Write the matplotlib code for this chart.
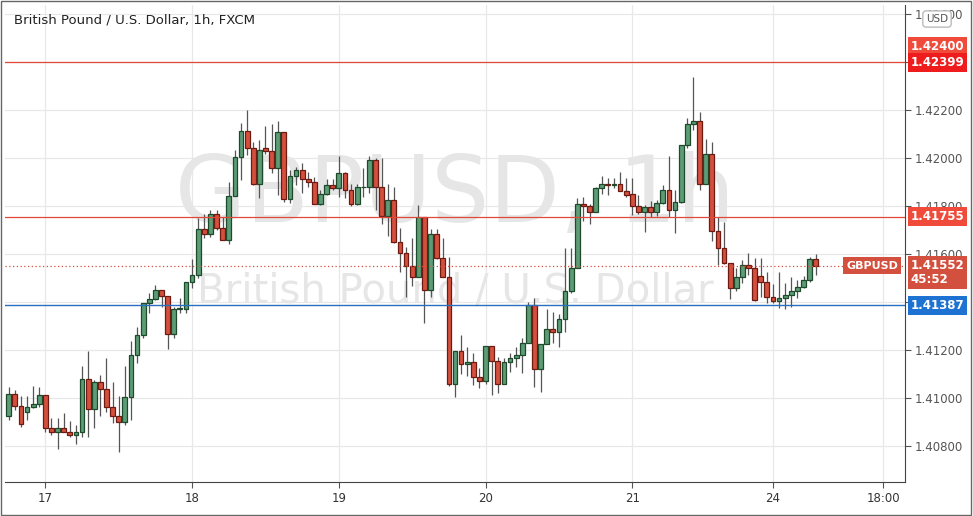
import matplotlib
matplotlib.use("Agg")
import matplotlib.pyplot as plt
from matplotlib.patches import Rectangle
import numpy as np

opens = [1.40925,1.41015,1.40967,1.40943,1.40961,1.40974,1.41011,1.40874,1.40857,1.40874,
1.40860,1.40844,1.40857,1.41078,1.40953,1.41065,1.41036,1.40961,1.40925,1.40901,
1.41003,1.41178,1.41261,1.41394,1.41411,1.41449,1.41424,1.41265,1.41369,1.41371,
1.41482,1.41511,1.41703,1.41682,1.41765,1.41710,1.41658,1.41843,1.42006,1.42114,
1.42040,1.41890,1.42040,1.42029,1.41957,1.42107,1.41828,1.41925,1.41950,1.41911,
1.41899,1.41807,1.41849,1.41888,1.41874,1.41936,1.41869,1.41807,1.41878,1.41878,
1.41992,1.41881,1.41760,1.41825,1.41651,1.41603,1.41550,1.41506,1.41756,1.41450,
1.41683,1.41582,1.41503,1.41057,1.41196,1.41140,1.41151,1.41086,1.41072,1.41217,
1.41156,1.41057,1.41149,1.41165,1.41179,1.41228,1.41387,1.41119,1.41224,1.41286,
1.41276,1.41328,1.41446,1.41540,1.41808,1.41800,1.41774,1.41874,1.41894,1.41889,
1.41894,1.41864,1.41849,1.41801,1.41776,1.41797,1.41774,1.41811,1.41867,1.41783,
1.41815,1.42054,1.42140,1.42153,1.41894,1.42019,1.41697,1.41624,1.41561,1.41457,
1.41506,1.41556,1.41540,1.41510,1.41482,1.41419,1.41404,1.41415,1.41429,1.41447,
1.41461,1.41492,1.41578]
highs = [1.41047,1.41033,1.41008,1.41008,1.41050,1.41047,1.41011,1.40915,1.40915,1.40936,
1.40906,1.40887,1.41133,1.41197,1.41075,1.41094,1.41165,1.41068,1.41008,1.41133,
1.41239,1.41294,1.41397,1.41436,1.41471,1.41449,1.41424,1.41378,1.41415,1.41485,
1.41578,1.41749,1.41765,1.41783,1.41783,1.41756,1.41901,1.42033,1.42147,1.42200,
1.42068,1.42075,1.42133,1.42142,1.42154,1.42107,1.41950,1.41964,1.41981,1.41943,
1.41922,1.41867,1.41913,1.41913,1.42008,1.41943,1.41894,1.41894,1.41957,1.42008,
1.41999,1.41999,1.41892,1.41878,1.41707,1.41631,1.41665,1.41804,1.41756,1.41703,
1.41706,1.41669,1.41586,1.41196,1.41263,1.41211,1.41189,1.41124,1.41217,1.41217,
1.41169,1.41165,1.41186,1.41211,1.41249,1.41401,1.41415,1.41224,1.41369,1.41360,
1.41350,1.41624,1.41624,1.41832,1.41836,1.41808,1.41881,1.41925,1.41919,1.41915,
1.41943,1.41915,1.41915,1.41846,1.41804,1.41822,1.41825,1.41888,1.42008,1.41867,
1.42054,1.42165,1.42339,1.42193,1.42079,1.42068,1.41756,1.41735,1.41561,1.41540,
1.41575,1.41603,1.41582,1.41582,1.41526,1.41475,1.41526,1.41478,1.41506,1.41492,
1.41508,1.41589,1.41600]
lows = [1.40908,1.40950,1.40881,1.40908,1.40957,1.40964,1.40860,1.40846,1.40786,1.40860,
1.40836,1.40808,1.40839,1.40836,1.40874,1.40925,1.40943,1.40894,1.40776,1.40887,
1.40908,1.41144,1.41251,1.41353,1.41408,1.41378,1.41203,1.41251,1.41353,1.41353,
1.41457,1.41499,1.41665,1.41672,1.41700,1.41658,1.41644,1.41840,1.41908,1.42013,
1.41887,1.41832,1.42019,1.41936,1.41846,1.41818,1.41811,1.41888,1.41853,1.41878,
1.41807,1.41804,1.41846,1.41867,1.41839,1.41832,1.41800,1.41804,1.41839,1.41856,
1.41783,1.41725,1.41675,1.41647,1.41526,1.41419,1.41467,1.41506,1.41311,1.41419,
1.41578,1.41503,1.41050,1.41006,1.41099,1.41092,1.41054,1.41040,1.41058,1.41012,
1.41022,1.41057,1.41107,1.41131,1.41103,1.41228,1.41047,1.41026,1.41224,1.41228,
1.41211,1.41276,1.41436,1.41540,1.41739,1.41725,1.41774,1.41850,1.41846,1.41874,
1.41864,1.41839,1.41762,1.41767,1.41693,1.41753,1.41760,1.41808,1.41753,1.41686,
1.41811,1.42044,1.42119,1.41869,1.41894,1.41656,1.41554,1.41558,1.41411,1.41447,
1.41481,1.41512,1.41406,1.41419,1.41394,1.41394,1.41374,1.41369,1.41378,1.41415,
1.41457,1.41485,1.41512]
closes = [1.41015,1.40967,1.40890,1.40961,1.40975,1.41011,1.40874,1.40857,1.40874,1.40860,
1.40844,1.40857,1.41078,1.40953,1.41065,1.41036,1.40961,1.40925,1.40901,1.41003,
1.41178,1.41261,1.41397,1.41411,1.41449,1.41424,1.41265,1.41371,1.41374,1.41482,
1.41511,1.41703,1.41682,1.41765,1.41710,1.41658,1.41843,1.42006,1.42114,1.42040,
1.41890,1.42033,1.42029,1.41957,1.42107,1.41828,1.41925,1.41950,1.41911,1.41899,
1.41807,1.41849,1.41888,1.41874,1.41936,1.41869,1.41807,1.41878,1.41881,1.41992,
1.41881,1.41760,1.41825,1.41651,1.41603,1.41550,1.41506,1.41756,1.41450,1.41683,
1.41582,1.41503,1.41057,1.41196,1.41140,1.41151,1.41086,1.41072,1.41217,1.41156,
1.41057,1.41149,1.41165,1.41179,1.41228,1.41387,1.41119,1.41224,1.41286,1.41276,
1.41328,1.41446,1.41540,1.41808,1.41800,1.41774,1.41874,1.41894,1.41889,1.41894,
1.41864,1.41846,1.41801,1.41776,1.41797,1.41774,1.41811,1.41867,1.41783,1.41815,
1.42054,1.42140,1.42153,1.41894,1.42019,1.41697,1.41624,1.41561,1.41457,1.41506,
1.41556,1.41540,1.41408,1.41482,1.41419,1.41404,1.41415,1.41429,1.41447,1.41461,
1.41492,1.41578,1.41552]

xtick_pos = [6, 30, 54, 78, 102, 125, 143]
xtick_labels = ["17", "18", "19", "20", "21", "24", "18:00"]
yticks = [1.408, 1.410, 1.412, 1.414, 1.416, 1.418, 1.420, 1.422, 1.424, 1.426]
res_lines = [1.42400, 1.41755]
sup_line = 1.41387
last_price = 1.41552

UP, UPE = "#5e9c76", "#1e4a2c"
DN, DNE = "#d4503e", "#6e1a10"

fig = plt.figure(figsize=(9.73, 5.16), dpi=100)
ax = fig.add_axes([5/973, 1-482/516, 900/973, 477/516])
ax.set_xlim(-0.6, 146.6)
ax.set_ylim(1.4065, 1.42638)

for t in yticks:
    ax.axhline(t, color="#e8e8e8", lw=0.9, zorder=0)
for t in xtick_pos:
    ax.axvline(t, color="#e8e8e8", lw=0.9, zorder=0)

ax.text(0.5, 0.6, "GBPUSD, 1h", transform=ax.transAxes, ha="center", va="center",
        fontsize=66, color="#e6e6e6", zorder=0)
ax.text(0.5, 0.4, "British Pound / U.S. Dollar", transform=ax.transAxes, ha="center", va="center",
        fontsize=29, color="#e6e6e6", zorder=0)

w = 0.78
for i, (o, h, l, c) in enumerate(zip(opens, highs, lows, closes)):
    up = c >= o
    ax.vlines(i, l, h, color="#555555", lw=0.9, zorder=2)
    b0, b1 = min(o, c), max(o, c)
    ax.add_patch(Rectangle((i - w/2, b0), w, max(b1 - b0, 0.000015),
                           facecolor=UP if up else DN, edgecolor=UPE if up else DNE,
                           lw=0.9, zorder=3))

for r in res_lines:
    ax.axhline(r, color="#e0483a", lw=0.9, zorder=4)
ax.axhline(sup_line, color="#2a6fbe", lw=1.0, zorder=4)
ax.axhline(last_price, color="#d4503e", lw=0.9, ls=(0, (1, 2)), zorder=4)

ax.set_xticks(xtick_pos)
ax.set_xticklabels(xtick_labels)
ax.set_yticks(yticks)
ax.set_yticklabels([f"{t:.5f}" for t in yticks])
ax.yaxis.tick_right()
ax.tick_params(axis="both", colors="#555555", labelsize=8.5, length=4)
ax.tick_params(axis="x", labelcolor="#333333")
ax.tick_params(axis="y", labelcolor="#555555", pad=3)
for s in ["top", "left"]:
    ax.spines[s].set_visible(False)
ax.spines["right"].set_color("#444444")
ax.spines["bottom"].set_color("#444444")

def label(y, txt, fc, dy=0):
    ax.annotate(txt, xy=(1, y), xycoords=("axes fraction", "data"), xytext=(4, dy),
                textcoords="offset points", ha="left", va="center", fontsize=8.5,
                fontweight="bold", color="white", zorder=6,
                bbox=dict(boxstyle="square,pad=0.25", fc=fc, ec="none"))

label(1.42400, "1.42400", "#f04a3a", 11)
label(1.42399, "1.42399", "#ee1c1c", 0)
label(1.41755, "1.41755", "#f04a3a", 0)
label(sup_line, "1.41387", "#1e72d2", 0)
ax.annotate("1.41552\n45:52", xy=(1, last_price), xycoords=("axes fraction", "data"),
            xytext=(4, -5), textcoords="offset points", ha="left", va="center",
            fontsize=8.5, color="white", fontweight="bold", zorder=6, linespacing=1.1,
            bbox=dict(boxstyle="square,pad=0.25", fc="#d4503e", ec="none"))
ax.annotate("GBPUSD", xy=(1, last_price), xycoords=("axes fraction", "data"),
            xytext=(-5, 0), textcoords="offset points", ha="right", va="center",
            fontsize=8, color="white", fontweight="bold", zorder=6,
            bbox=dict(boxstyle="square,pad=0.3", fc="#d4503e", ec="none"))

fig.text(14/973, 1-20/516, "British Pound / U.S. Dollar, 1h, FXCM", fontsize=9.5,
         color="#222222", va="center", ha="left")
fig.text(937/973, 1-19/516, "USD", fontsize=7.5, color="#555555", ha="center", va="center",
         bbox=dict(boxstyle="round,pad=0.3", fc="white", ec="#bbbbbb"))
fig.add_artist(Rectangle((0.001, 0.001), 0.997, 0.997, transform=fig.transFigure,
                         fill=False, ec="#666666", lw=1))
fig.savefig("out.png", dpi=100)
